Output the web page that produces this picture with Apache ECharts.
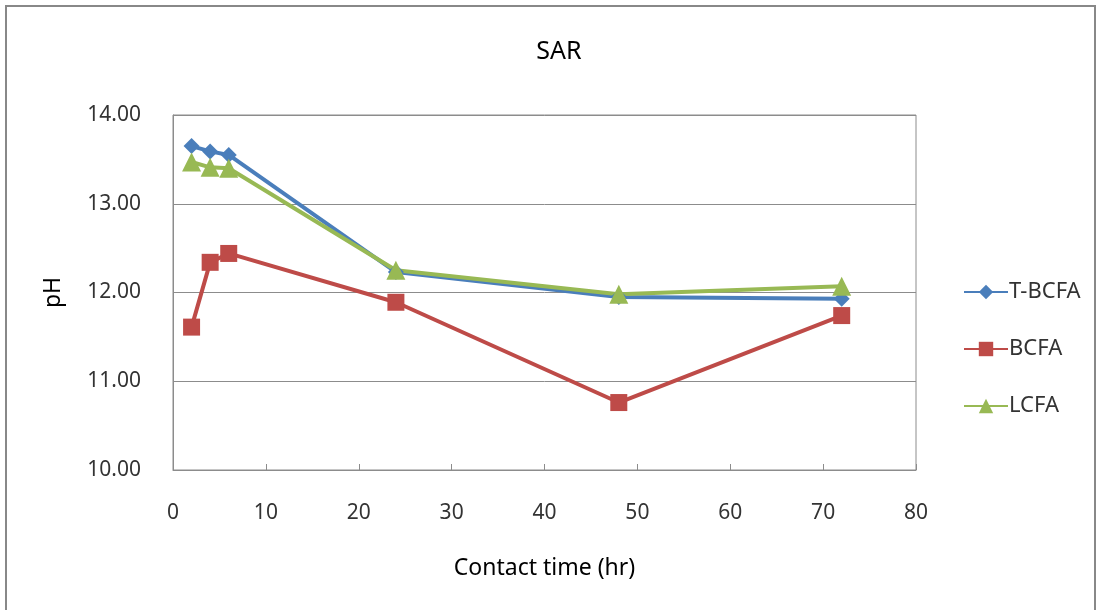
<!DOCTYPE html>
<html><head><meta charset="utf-8">
<script src="https://cdn.jsdelivr.net/npm/echarts@6/dist/echarts.min.js"></script>
<style>html,body{margin:0;padding:0;background:#fff}#c{width:1097px;height:610px}</style>
</head><body><div id="c"></div>
<script>
const hours = [2, 4, 6, 24, 48, 72];
const tbcfa = [13.65, 13.59, 13.55, 12.23, 11.95, 11.93];
const bcfa = [11.61, 12.34, 12.44, 11.89, 10.76, 11.74];
const lcfa = [13.47, 13.41, 13.40, 12.25, 11.98, 12.07];
const seriesNames = ['T-BCFA', 'BCFA', 'LCFA'];
const colors = ['#4A7EBB', '#BE4B48', '#98B954'];
const symbols = ['diamond', 'rect', 'triangle'];
const symbolSizes = [16, 17, 19];
const values = [tbcfa, bcfa, lcfa];
const font = '"Noto Sans", "DejaVu Sans", sans-serif';

const chart = echarts.init(document.getElementById('c'));
chart.setOption({
  animation: false,
  backgroundColor: '#fff',
  title: { text: 'SAR', left: 554, top: 34, textAlign: 'center',
    textStyle: { fontFamily: font, fontSize: 25, fontWeight: 'normal', color: '#000' } },
  graphic: [{ type: 'rect', shape: { x: 6, y: 6, width: 1089, height: 620 },
    style: { fill: 'none', stroke: '#888', lineWidth: 2 }, silent: true }],
  grid: { left: 173, top: 115, right: 181, bottom: 140, show: true, borderColor: '#8c8c8c', borderWidth: 1 },
  legend: {
    orient: 'vertical', left: 958, top: 276, itemGap: 35, itemWidth: 44, itemHeight: 18,
    data: seriesNames,
    textStyle: { fontFamily: font, fontSize: 22, color: '#333', padding: [0, 0, 0, -4] }
  },
  xAxis: {
    type: 'value', min: 0, max: 80, interval: 10,
    name: 'Contact time (hr)', nameLocation: 'middle', nameGap: 87,
    nameTextStyle: { fontFamily: font, fontSize: 23, color: '#000' },
    axisLine: { lineStyle: { color: '#8c8c8c' } },
    axisTick: { inside: true, length: 6, lineStyle: { color: '#8c8c8c' } },
    axisLabel: { fontFamily: font, fontSize: 21, color: '#333', margin: 33 },
    splitLine: { show: false }
  },
  yAxis: {
    type: 'value', min: 10, max: 14, interval: 1,
    name: 'pH', nameLocation: 'middle', nameGap: 108, nameRotate: 90,
    nameTextStyle: { fontFamily: font, fontSize: 23, color: '#000' },
    axisLine: { show: true, lineStyle: { color: '#8c8c8c' } },
    axisTick: { show: false },
    axisLabel: { fontFamily: font, fontSize: 21, color: '#333', margin: 32,
      formatter: v => v.toFixed(2) },
    splitLine: { lineStyle: { color: '#8c8c8c', width: 1 } }
  },
  series: seriesNames.map((n, i) => ({
    name: n, type: 'line',
    data: hours.map((h, j) => [h, values[i][j]]),
    symbol: symbols[i], symbolSize: symbolSizes[i],
    lineStyle: { color: colors[i], width: 4 },
    itemStyle: { color: colors[i] }
  }))
});
</script></body></html>
